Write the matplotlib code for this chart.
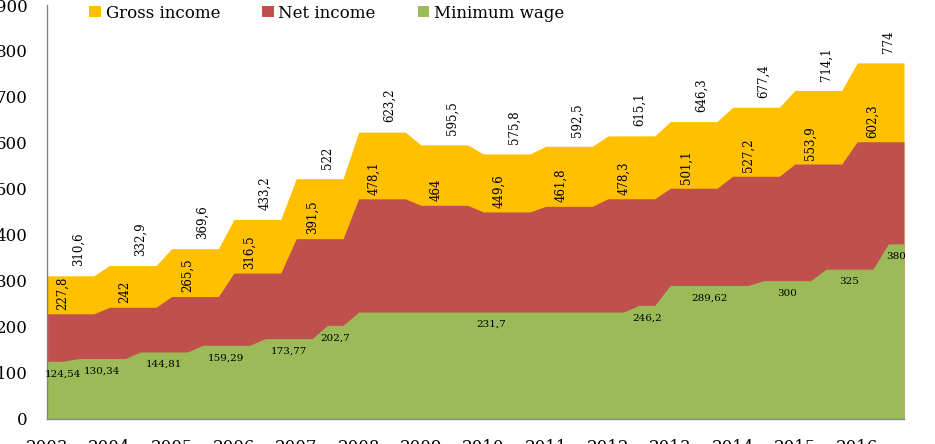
import numpy as np
import pandas as pd
import matplotlib
matplotlib.use("Agg")
import matplotlib.pyplot as plt

plt.rcParams['font.family'] = ['DejaVu Serif']

years = list(range(2003, 2017))
gross_income = [310.6, 332.9, 369.6, 433.2, 522, 623.2, 595.5, 575.8, 592.5,
                615.1, 646.3, 677.4, 714.1, 774]
net_income = [227.8, 242, 265.5, 316.5, 391.5, 478.1, 464, 449.6, 461.8,
              478.3, 501.1, 527.2, 553.9, 602.3]
# minimum wage: value and the quarter from which it applies
min_wage_from = ["2003Q1", "2003Q3", "2004Q3", "2005Q3", "2006Q3", "2007Q3",
                 "2008Q1", "2012Q3", "2013Q1", "2014Q3", "2015Q3", "2016Q3"]
min_wage = [124.54, 130.34, 144.81, 159.29, 173.77, 202.7,
            231.7, 246.2, 289.62, 300, 325, 380]

colors = {"gross": "#FFC000", "net": "#C0504D", "mw": "#9BBB59"}


def fmt(v):
    return f"{v:g}".replace(".", ",")


# quarterly series
quarters = pd.period_range("2003Q1", "2016Q4", freq="Q")
mw = pd.Series(np.nan, index=quarters)
for q, v in zip(min_wage_from, min_wage):
    mw[pd.Period(q, freq="Q")] = v
mw = mw.ffill().values
gross_q = np.repeat(gross_income, 4)
net_q = np.repeat(net_income, 4)
x = np.arange(len(quarters))

fig = plt.figure(figsize=(9.35, 4.44), dpi=100)
ax = fig.add_axes([47 / 935, 1 - 418.5 / 444, (904 - 47) / 935, (418.5 - 5) / 444])

h1 = ax.fill_between(x, 0, gross_q, color=colors["gross"], lw=0, label="Gross income")
h2 = ax.fill_between(x, 0, net_q, color=colors["net"], lw=0, label="Net income")
h3 = ax.fill_between(x, 0, mw, color=colors["mw"], lw=0, label="Minimum wage")

# data labels
for i, (g, n) in enumerate(zip(gross_income, net_income)):
    ax.annotate(fmt(g), (4 * i + 2, g), xytext=(0, 7), textcoords="offset points",
                rotation=90, ha="center", va="bottom", fontsize=8.5)
    ax.annotate(fmt(n), (4 * i + 1, n), xytext=(0, 3), textcoords="offset points",
                rotation=90, ha="center", va="bottom", fontsize=8.5)

starts = [pd.Period(q, freq="Q").ordinal - quarters[0].ordinal for q in min_wage_from]
ends = starts[1:] + [len(quarters)]
for s, e, v in zip(starts, ends, min_wage):
    mid = max((s + e - 1) / 2, 1.0)
    ax.annotate(fmt(v), (mid, v), xytext=(0, -9), textcoords="offset points",
                ha="center", va="center", fontsize=7.5)

ax.set_xlim(0, len(quarters) - 1)
ax.set_ylim(0, 900)
ax.set_yticks(range(0, 901, 100))
ax.set_xticks(np.arange(0, len(quarters), 4))
ax.set_xticklabels([str(y) for y in years])
ax.tick_params(axis="both", length=0, labelsize=12)
ax.tick_params(axis="y", pad=14)
ax.tick_params(axis="x", pad=14.5)
for side in ["top", "right"]:
    ax.spines[side].set_visible(False)
for side in ["left", "bottom"]:
    ax.spines[side].set_color("#868686")
    ax.spines[side].set_linewidth(1)

fig.legend(handles=[h1, h2, h3], loc="center left", bbox_to_anchor=(89 / 935, 1 - 13 / 444),
           ncol=3, frameon=False, fontsize=12, handlelength=0.7, handleheight=0.7,
           handletextpad=0.3, columnspacing=2.5, borderaxespad=0, borderpad=0)

fig.savefig("out.png", dpi=100)
